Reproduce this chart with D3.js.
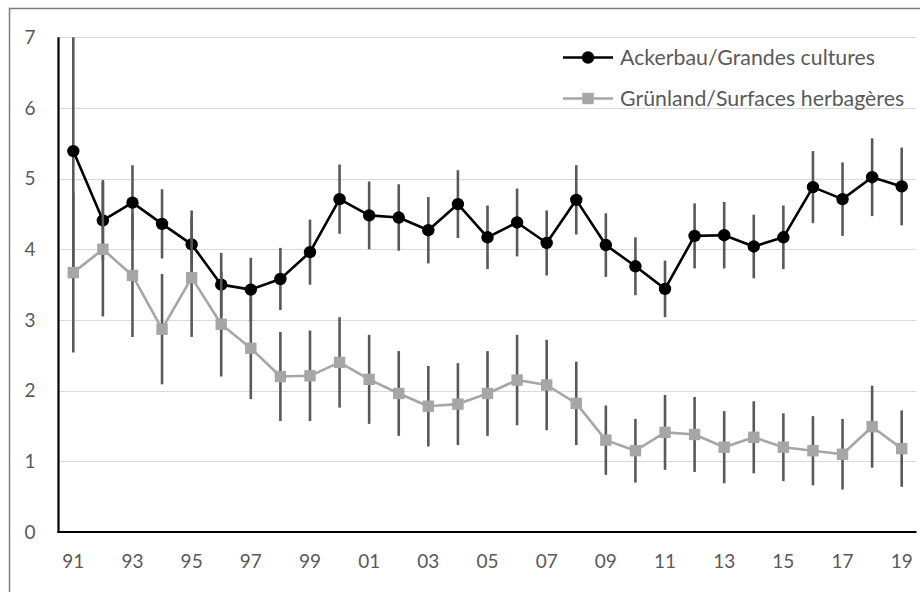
<!DOCTYPE html>
<html>
<head>
<meta charset="utf-8">
<script src="https://cdn.jsdelivr.net/npm/d3@7"></script>
<style>
  html, body { margin: 0; padding: 0; background: #fff; }
  svg { display: block; }
  text { font-family: Lato, "Open Sans", sans-serif; }
</style>
</head>
<body>
<svg id="chart" width="920" height="592"></svg>
<script>
// Years (two-digit labels), 1991–2019
const years = ["91","92","93","94","95","96","97","98","99","00","01","02","03","04","05","06","07","08","09","10","11","12","13","14","15","16","17","18","19"];
const xTickLabels = ["91","93","95","97","99","01","03","05","07","09","11","13","15","17","19"];
const yTicks = [0, 1, 2, 3, 4, 5, 6, 7];

// Ackerbau / Grandes cultures: mean and error half-width
const ackerbau = [5.39,4.41,4.66,4.36,4.07,3.50,3.43,3.58,3.96,4.71,4.48,4.45,4.27,4.64,4.17,4.38,4.09,4.70,4.06,3.76,3.44,4.19,4.20,4.04,4.17,4.88,4.71,5.02,4.89];
const ackerbauErr = [1.65,0.57,0.53,0.49,0.48,0.45,0.45,0.44,0.46,0.49,0.48,0.47,0.47,0.48,0.45,0.48,0.46,0.49,0.45,0.41,0.40,0.46,0.47,0.45,0.45,0.51,0.52,0.55,0.55];

// Grünland / Surfaces herbagères: mean and error half-width
const gruenland = [3.67,4.00,3.63,2.87,3.60,2.94,2.60,2.20,2.21,2.40,2.16,1.96,1.78,1.81,1.96,2.15,2.08,1.82,1.30,1.15,1.41,1.38,1.20,1.34,1.20,1.15,1.10,1.49,1.18];
const gruenlandErr = [1.13,0.95,0.87,0.78,0.84,0.74,0.72,0.63,0.64,0.64,0.63,0.60,0.57,0.58,0.60,0.64,0.64,0.59,0.49,0.45,0.53,0.53,0.51,0.51,0.48,0.49,0.50,0.58,0.54];

const seriesNames = ["Ackerbau/Grandes cultures", "Grünland/Surfaces herbagères"];

const svg = d3.select("#chart");
const plot = { left: 58.5, right: 916.5, top: 37.3, bottom: 532 };

const x = d3.scaleBand().domain(years).range([plot.left, plot.right]).padding(0);
const cx = d => x(d) + x.bandwidth() / 2;
const y = d3.scaleLinear().domain([0, 7]).range([plot.bottom, plot.top]);

// outer chart frame
svg.append("rect")
  .attr("x", 9.5).attr("y", 8.5)
  .attr("width", 1000).attr("height", 700)
  .attr("fill", "none").attr("stroke", "#7f7f7f").attr("stroke-width", 1.5);

// horizontal gridlines
svg.append("g").selectAll("line")
  .data(yTicks.filter(t => t > 0))
  .join("line")
  .attr("x1", plot.left).attr("x2", plot.right)
  .attr("y1", d => Math.round(y(d)) + 0.5).attr("y2", d => Math.round(y(d)) + 0.5)
  .attr("stroke", "#d9d9d9").attr("stroke-width", 1);

// y axis labels, centred in the left margin
const yAxis = svg.append("g")
  .attr("transform", `translate(${plot.left},0)`)
  .call(d3.axisLeft(y).tickValues(yTicks).tickSize(0).tickFormat(d3.format("d")));
yAxis.select(".domain").remove();
yAxis.selectAll("text")
  .attr("x", 30 - plot.left)
  .attr("font-size", 19).attr("fill", "#595959").attr("text-anchor", "middle");

// x axis labels
const xAxis = svg.append("g")
  .attr("transform", `translate(0,${plot.bottom})`)
  .call(d3.axisBottom(x).tickValues(xTickLabels).tickSize(0).tickPadding(23));
xAxis.select(".domain").remove();
xAxis.selectAll("text").attr("font-size", 19).attr("fill", "#595959");

// axis lines
svg.append("line")
  .attr("x1", plot.left).attr("x2", plot.left)
  .attr("y1", plot.top).attr("y2", plot.bottom + 1)
  .attr("stroke", "#000").attr("stroke-width", 2.2);
svg.append("line")
  .attr("x1", plot.left - 1).attr("x2", plot.right)
  .attr("y1", plot.bottom).attr("y2", plot.bottom)
  .attr("stroke", "#000").attr("stroke-width", 2.2);

const clampY = v => y(Math.max(0, Math.min(7, v)));

const series = [
  { name: seriesNames[0], values: ackerbau, err: ackerbauErr, color: "#000000", marker: "circle" },
  { name: seriesNames[1], values: gruenland, err: gruenlandErr, color: "#a6a6a6", marker: "square" }
];

const line = d3.line().x((d, i) => cx(years[i])).y(d => y(d));

series.forEach(s => {
  const g = svg.append("g");
  g.append("path")
    .datum(s.values)
    .attr("d", line)
    .attr("fill", "none")
    .attr("stroke", s.color)
    .attr("stroke-width", 2.6)
    .attr("stroke-linejoin", "round");

  g.append("g").selectAll("line")
    .data(s.values)
    .join("line")
    .attr("x1", (d, i) => cx(years[i])).attr("x2", (d, i) => cx(years[i]))
    .attr("y1", (d, i) => clampY(d + s.err[i]))
    .attr("y2", (d, i) => clampY(d - s.err[i]))
    .attr("stroke", "#595959").attr("stroke-width", 2.6);

  if (s.marker === "circle") {
    g.append("g").selectAll("circle")
      .data(s.values)
      .join("circle")
      .attr("cx", (d, i) => cx(years[i]))
      .attr("cy", d => y(d))
      .attr("r", 6.2)
      .attr("fill", s.color);
  } else {
    g.append("g").selectAll("rect")
      .data(s.values)
      .join("rect")
      .attr("x", (d, i) => cx(years[i]) - 5.7)
      .attr("y", d => y(d) - 5.7)
      .attr("width", 11.4).attr("height", 11.4)
      .attr("fill", s.color);
  }
});

// legend
const legend = svg.append("g");
const legendRows = [
  { s: series[0], y: 57.5 },
  { s: series[1], y: 98.5 }
];
legendRows.forEach(r => {
  const lg = legend.append("g").attr("transform", `translate(0,${r.y})`);
  lg.append("line").attr("x1", 563).attr("x2", 613).attr("y1", 0).attr("y2", 0)
    .attr("stroke", r.s.color).attr("stroke-width", 2.6);
  if (r.s.marker === "circle") {
    lg.append("circle").attr("cx", 588).attr("cy", 0).attr("r", 6.2).attr("fill", r.s.color);
  } else {
    lg.append("rect").attr("x", 582.3).attr("y", -5.7).attr("width", 11.4).attr("height", 11.4).attr("fill", r.s.color);
  }
  lg.append("text").attr("x", 620).attr("y", 0).attr("dy", "0.35em")
    .attr("font-size", 21.3).attr("fill", "#595959")
    .text(r.s.name);
});
</script>
</body>
</html>
